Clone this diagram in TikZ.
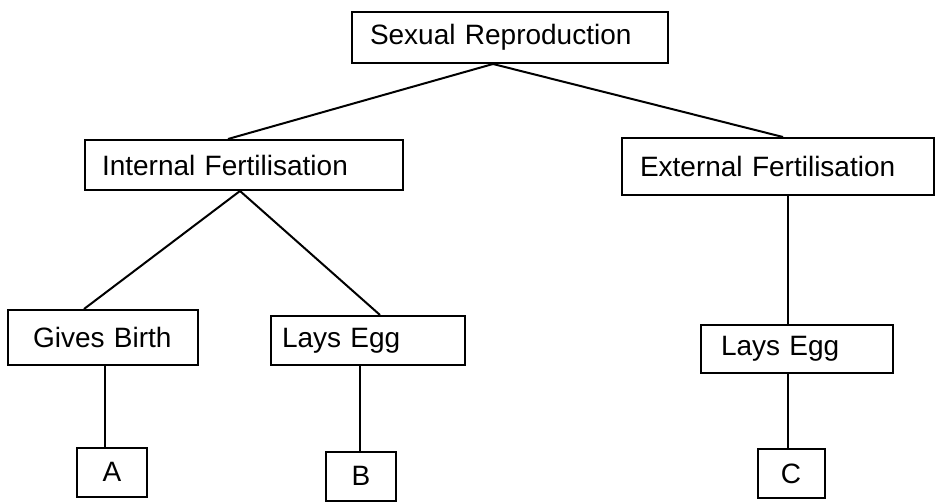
\documentclass[tikz,border=0pt]{standalone}
\usepackage{fontspec}
\setmainfont{Liberation Sans}
\usepackage{tikz}
\usetikzlibrary{calc}

\begin{document}
\begin{tikzpicture}[
    x=1pt, y=-1pt,
    box/.style={draw, rectangle, line width=2pt, inner ysep=0pt, inner xsep=18pt,
      align=left, font=\fontsize{28}{32}\selectfont},
    letterbox/.style={box, inner xsep=0pt, align=center, minimum width=70pt, minimum height=49pt},
    link/.style={line width=2pt}
]
\useasboundingbox (0,0) rectangle (936,503);

\node (sexrep) [box, text width=280pt, minimum height=51pt] at (510,37.5) {Sexual Reproduction};
\node (internal) [box, text width=284pt, minimum height=50pt, inner xsep=17pt] at (244,165) {Internal Fertilisation};
\node (external) [box, text width=276pt, minimum height=57pt] at (778,166.5) {External Fertilisation};
\node (birth) [box, text width=140pt, inner xsep=25pt, minimum height=55pt] at (103,337.5) {Gives Birth};
\node (eggint) [box, text width=172pt, inner xsep=11pt, minimum height=49pt] at (368,340.5) {Lays Egg};
\node (eggext) [box, text width=152pt, inner xsep=20pt, minimum height=48pt] at (797,349) {Lays Egg};
\node (a) [letterbox] at (112,472) {A};
\node (b) [letterbox] at (361,476) {B};
\node (c) [letterbox, minimum width=67pt] at (791,473.5) {C};

\draw[link] ($(sexrep.south)+(-17,0)$) -- ($(internal.north)+(-16,0)$);
\draw[link] ($(sexrep.south)+(-17,0)$) -- ($(external.north)+(5,0)$);
\draw[link] ($(internal.south)+(-4,0)$) -- ($(birth.north)+(-19,0)$);
\draw[link] ($(internal.south)+(-4,0)$) -- ($(eggint.north)+(12,0)$);
\draw[link] ($(external.south)+(10,0)$) -- ($(eggext.north)+(-9,0)$);
\draw[link] ($(birth.south)+(2,0)$) -- ($(a.north)+(-7,0)$);
\draw[link] ($(eggint.south)+(-8,0)$) -- ($(b.north)+(-1,0)$);
\draw[link] ($(eggext.south)+(-9,0)$) -- ($(c.north)+(-3,0)$);
\end{tikzpicture}
\end{document}
